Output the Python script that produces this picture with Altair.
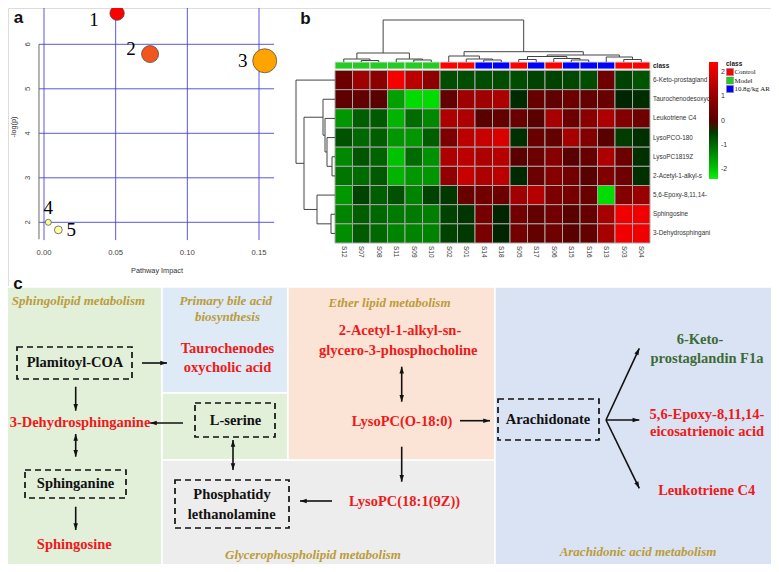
import math
import altair as alt
import pandas as pd

# ---------------- Panel a: pathway impact ----------------
path_ids = ["1", "2", "3", "4", "5"]
path_impact = [0.051, 0.074, 0.154, 0.003, 0.010]
path_logp = [6.70, 5.78, 5.63, 2.00, 1.83]
path_colors = ["#ff0000", "#f0561e", "#ffa300", "#ffff8f", "#ffffa3"]
x_ticks = [0.00, 0.05, 0.10, 0.15]
y_ticks = [2, 3, 4, 5, 6]

# ---------------- Panel b: heatmap ----------------
samples = ["S12", "S07", "S08", "S11", "S09", "S10", "S02", "S01", "S14",
           "S18", "S05", "S17", "S06", "S15", "S16", "S13", "S03", "S04"]
sample_class = ["Model", "Model", "Model", "Model", "Model", "Model",
                "Control", "Control", "10.8g/kg AR", "10.8g/kg AR", "Control",
                "10.8g/kg AR", "Control", "10.8g/kg AR", "10.8g/kg AR",
                "10.8g/kg AR", "Control", "Control"]
metabolites = ["6-Keto-prostagland", "Taurochenodesoxych", "Leukotriene C4",
               "LysoPCO-180", "LysoPC1819Z", "2-Acetyl-1-alkyl-s",
               "5,6-Epoxy-8,11,14-", "Sphingosine", "3-Dehydrosphingani"]
heat_values = [
    [0.35, 1.10, 0.80, 2.30, 1.50, 0.85, -0.70, -0.70, -0.70, -0.70, -0.70, -0.60, -0.60, -0.65, -0.70, 0.40, -0.60, -0.80],
    [0.10, 0.20, 0.00, -1.60, -2.20, -2.20, 0.20, 1.10, 1.10, 1.30, -0.20, 0.25, 0.15, 0.35, 0.20, 0.30, -0.05, -0.25],
    [-1.50, -0.90, -0.85, -1.80, -1.05, -1.35, 1.30, 1.30, 0.00, 0.20, 0.30, 0.00, 1.20, 0.35, 0.80, 1.30, 0.70, 0.40],
    [-0.75, -1.00, -0.90, -1.50, -1.50, -0.90, 0.60, 1.50, 1.65, 1.90, -0.30, 0.30, 0.20, 1.20, 0.70, 0.00, -0.50, -0.30],
    [-1.35, -0.80, -0.95, -1.95, -1.05, -1.45, 1.30, 1.50, 1.30, 1.45, 0.05, 0.35, 0.75, 0.05, 0.25, 1.30, 0.35, -0.30],
    [-1.15, -1.05, -0.85, -1.80, -1.50, -1.50, 0.90, 1.65, 1.30, 1.50, -0.15, 0.35, 0.75, 0.45, 0.00, 0.65, 0.40, -0.30],
    [-1.50, -0.60, -0.90, -0.75, -1.30, -0.60, -0.45, 0.30, 0.45, 0.35, 1.10, 1.40, 0.60, 0.50, 0.30, -2.20, 0.70, 1.00],
    [-1.30, -0.90, -1.00, -1.20, -1.20, -1.25, -0.60, -0.40, 0.50, -0.05, 0.45, 0.20, 0.45, 0.05, 0.25, 1.20, 2.20, 2.20],
    [-1.40, -0.85, -1.00, -1.30, -1.30, -1.30, -0.60, -0.45, 0.55, -0.05, 0.45, 0.20, 0.40, 0.05, 0.20, 1.20, 2.20, 2.20],
]
class_names = ["Control", "Model", "10.8g/kg AR"]
class_colors = ["#ff0000", "#22cc22", "#0000ff"]
colorbar_ticks = [-2, -1, 0, 1, 2]

# dendrogram merges: (left, right, merge height)
col_merges = [
    (1, 2, 1.5), (0, "n0", 3), (4, 5, 2), (3, "n2", 3), ("n1", "n3", 9),
    (8, 9, 2), (7, "n5", 3), (6, "n6", 6),
    (10, 11, 2.5), (13, 14, 2), (12, "n9", 3.5), ("n8", "n10", 5.5),
    (16, 17, 2.5), (15, "n12", 5), ("n11", "n13", 7),
    ("n7", "n14", 10.3), ("n4", "n15", 42),
]
row_merges = [
    (4, 5, 3), (3, "n0", 8), (2, "n1", 10), (1, "n2", 12),
    (7, 8, 4), (6, "n4", 18), ("n3", "n5", 31), (0, "n6", 39),
]

# ---------------- Panel c: pathway diagram (layout in page pixels) ----------------
region_names = ["sphingo", "bile", "serine", "glycero", "ether", "arach"]
region_fills = ["#e2efd9", "#deeaf6", "#e2efd9", "#ededed", "#fbe4d5", "#dae3f3"]
regions = pd.DataFrame({
    "name": region_names,
    "x1": [0, 162, 162, 162, 288, 495],
    "y1": [287, 287, 393, 460, 287, 287],
    "x2": [162, 288, 288, 495, 495, 779],
    "y2": [568, 393, 460, 568, 460, 568],
})
boxes = pd.DataFrame({
    "x1": [17, 195, 25, 175, 498],
    "y1": [347, 403, 470, 480, 399],
    "x2": [132, 275, 126, 289, 599],
    "y2": [379, 437, 498, 528, 440],
})
arrows = [
    (142, 363, 167, 363, False),
    (75.7, 386.7, 75.7, 410.7, False),
    (183, 423, 150, 423, False),
    (75.7, 434, 75.7, 456.7, True),
    (75.7, 506.7, 75.7, 530, False),
    (233, 440, 233, 470, True),
    (332, 501, 300, 501, False),
    (401.7, 366.7, 401.7, 401.7, True),
    (460, 420.7, 490, 420.7, False),
    (401.7, 446.7, 401.7, 481.7, False),
    (606, 420, 639.3, 348.3, False),
    (606, 420, 639.3, 420, False),
    (606, 420, 639.3, 488.3, False),
]
black_nodes = [("Plamitoyl-COA", 75, 363.3), ("L-serine", 235.5, 421),
               ("Sphinganine", 75.5, 484.3), ("Phosphatidy", 232, 495),
               ("lethanolamine", 231.7, 515), ("Arachidonate", 548, 420)]
red_nodes = [("Taurochenodes", 227.5, 349), ("oxycholic acid", 227.5, 368.3),
             ("3-Dehydrosphinganine", 80, 422.7), ("Sphingosine", 74.3, 545),
             ("2-Acetyl-1-alkyl-sn-", 400, 330.5),
             ("glycero-3-phosphocholine", 398.3, 351),
             ("LysoPC(O-18:0)", 402, 421.7), ("LysoPC(18:1(9Z))", 404.5, 501.7),
             ("5,6-Epoxy-8,11,14-", 707, 415), ("eicosatrienoic acid", 707, 431.7),
             ("Leukotriene C4", 706.7, 490.7)]
green_nodes = [("6-Keto-", 700, 340), ("prostaglandin F1a", 707, 359)]
pathway_titles = [("Sphingolipid metabolism", 78.5, 301),
                  ("Primary bile acid", 225.8, 301), ("biosynthesis", 227.5, 317.3),
                  ("Ether lipid metabolism", 389.5, 302.7),
                  ("Glycerophospholipid metabolism", 313, 555),
                  ("Arachidonic acid metabolism", 638, 551.7)]
panel_letters = [("a", 18.5, 23), ("b", 305.5, 23.5), ("c", 18, 289)]

# ------------------------------------------------------------------
SANS = "Liberation Sans"
SERIF = "Liberation Serif"
W, H = 763, 556


def lin(domain, rng):
    return alt.Scale(domain=domain, range=rng, nice=False, zero=False)


PX = lin([0, 779], [-8, 771])   # page pixel -> plot pixel
PY = lin([0, 572], [-8, 564])


def txt_df(items):
    return pd.DataFrame(items, columns=["t", "x", "y"])


layers = []

# ===== Panel c backgrounds =====
layers.append(
    alt.Chart(regions).mark_rect(stroke="white", strokeWidth=1.5).encode(
        x=alt.X("x1:Q", scale=PX, axis=None), x2="x2:Q",
        y=alt.Y("y1:Q", scale=PY, axis=None), y2="y2:Q",
        color=alt.Color("name:N", scale=alt.Scale(domain=region_names, range=region_fills), legend=None),
    )
)

# ===== Panel a =====
AX = lin([0, 0.15], [36, 251])
AY = lin([2, 6], [214.3, 36.3])
grid_blue = "#3c3cd6"
layers.append(
    alt.Chart(pd.DataFrame({"x": x_ticks, "y1": 1.60, "y2": 6.88})).mark_rule(
        color=grid_blue, strokeWidth=1, opacity=0.85).encode(
        x=alt.X("x:Q", scale=AX, axis=None),
        y=alt.Y("y1:Q", scale=AY, axis=None), y2="y2:Q")
)
layers.append(
    alt.Chart(pd.DataFrame({"y": y_ticks, "x1": -0.0035, "x2": 0.1605})).mark_rule(
        color=grid_blue, strokeWidth=1, opacity=0.85).encode(
        y=alt.Y("y:Q", scale=AY, axis=None),
        x=alt.X("x1:Q", scale=AX, axis=None), x2="x2:Q")
)
layers.append(
    alt.Chart(pd.DataFrame({"x": [-0.0035], "y1": [1.62], "y2": [6.0]})).mark_rule(
        color="#666", strokeWidth=1).encode(
        x=alt.X("x:Q", scale=AX, axis=None),
        y=alt.Y("y1:Q", scale=AY, axis=None), y2="y2:Q")
)
layers.append(
    alt.Chart(pd.DataFrame({"x": x_ticks})).mark_text(
        font=SANS, fontSize=7.7, color="#444", baseline="middle").encode(
        x=alt.X("x:Q", scale=AX, axis=None), y=alt.value(245),
        text=alt.Text("x:Q", format=".2f"))
)
layers.append(
    alt.Chart(pd.DataFrame({"y": y_ticks})).mark_text(
        font=SANS, fontSize=7.7, color="#444", baseline="middle", angle=270).encode(
        y=alt.Y("y:Q", scale=AY, axis=None), x=alt.value(20),
        text=alt.Text("y:Q", format="d"))
)
layers.append(
    alt.Chart(txt_df([("Pathway Impact", 157, 271)])).mark_text(
        font=SANS, fontSize=7.3, color="#333", baseline="middle").encode(
        x=alt.X("x:Q", scale=PX, axis=None), y=alt.Y("y:Q", scale=PY, axis=None), text="t:N")
)
layers.append(
    alt.Chart(txt_df([("-log(p)", 14, 127)])).mark_text(
        font=SANS, fontSize=7.3, color="#333", baseline="middle", angle=270).encode(
        x=alt.X("x:Q", scale=PX, axis=None), y=alt.Y("y:Q", scale=PY, axis=None), text="t:N")
)
bubbles = pd.DataFrame({"id": path_ids, "impact": path_impact, "logp": path_logp})
layers.append(
    alt.Chart(bubbles).mark_circle(stroke="#444", strokeWidth=0.7, opacity=1).encode(
        x=alt.X("impact:Q", scale=AX, axis=None),
        y=alt.Y("logp:Q", scale=AY, axis=None),
        size=alt.Size("impact:Q", scale=alt.Scale(domain=[0.003, 0.154], range=[36, 576], zero=False, nice=False), legend=None),
        color=alt.Color("id:N", scale=alt.Scale(domain=path_ids, range=path_colors), legend=None),
    )
)
label_offsets = {"1": (-23, 6.5), "2": (-19, -5), "3": (-22, 0), "4": (0, -14), "5": (13, 0)}
for pid in path_ids:
    dx, dy = label_offsets[pid]
    layers.append(
        alt.Chart(bubbles[bubbles["id"] == pid]).mark_text(
            font=SERIF, fontSize=19, color="black", baseline="middle", dx=dx, dy=dy).encode(
            x=alt.X("impact:Q", scale=AX, axis=None),
            y=alt.Y("logp:Q", scale=AY, axis=None), text="id:N")
    )

# ===== Panel b =====
HX_RANGE = [327, 642]
HY_RANGE = [62.5, 235]
band_x = alt.Scale(type="band", domain=samples, range=HX_RANGE, paddingInner=0, paddingOuter=0)
band_y = alt.Scale(type="band", domain=metabolites, range=HY_RANGE, paddingInner=0, paddingOuter=0)
point_x = alt.Scale(type="point", domain=samples, range=HX_RANGE, padding=0.5)
point_y = alt.Scale(type="point", domain=metabolites, range=HY_RANGE, padding=0.5)

heat = pd.DataFrame([
    {"metab": m, "sample": s, "v": heat_values[i][j]}
    for i, m in enumerate(metabolites) for j, s in enumerate(samples)
])
layers.append(
    alt.Chart(heat).mark_rect(stroke="#a8a8a8", strokeWidth=1).encode(
        x=alt.X("sample:N", scale=band_x, axis=None),
        y=alt.Y("metab:N", scale=band_y, axis=None),
        color=alt.Color("v:Q", scale=alt.Scale(domain=[-2.4, 0, 2.4], range=["#10f010", "#000000", "#ff0000"], nice=False, zero=False),
                        legend=alt.Legend(orient="none", legendX=701, legendY=54, direction="vertical",
                                          gradientLength=117, gradientThickness=9, title=None,
                                          values=colorbar_ticks, labelFontSize=7, labelFont=SANS,
                                          labelColor="#333", labelOffset=3, gradientStrokeWidth=0,
                                          labelOverlap=False,
                                          labelExpr="datum.value < 0 ? '-' + abs(datum.value) : '' + datum.value")),
    )
)
cls = pd.DataFrame({"sample": samples, "cls": sample_class})
layers.append(
    alt.Chart(cls).mark_rect(stroke="#dddddd", strokeWidth=1).encode(
        x=alt.X("sample:N", scale=band_x, axis=None),
        y=alt.value(54), y2=alt.value(61),
        color=alt.Color("cls:N", scale=alt.Scale(domain=class_names, range=class_colors), legend=None),
    )
)
layers.append(
    alt.Chart(pd.DataFrame({"m": metabolites})).mark_text(
        font=SANS, fontSize=6.4, color="#333", align="left", baseline="middle").encode(
        y=alt.Y("m:N", scale=point_y, axis=None), x=alt.value(645), text="m:N")
)
layers.append(
    alt.Chart(pd.DataFrame({"s": samples})).mark_text(
        font=SANS, fontSize=6.5, color="#333", align="left", baseline="middle", angle=90).encode(
        x=alt.X("s:N", scale=point_x, axis=None), y=alt.value(238), text="s:N")
)
layers.append(
    alt.Chart(txt_df([("class", 653, 66)])).mark_text(
        font=SANS, fontSize=6.5, fontWeight="bold", color="#222", align="left", baseline="middle").encode(
        x=alt.X("x:Q", scale=PX, axis=None), y=alt.Y("y:Q", scale=PY, axis=None), text="t:N")
)


def dendro(merges, n_leaves):
    pos = {i: float(i) for i in range(n_leaves)}
    hgt = {i: 0.0 for i in range(n_leaves)}
    segs = []
    for k, (a, b, h) in enumerate(merges):
        pa, pb = pos[a], pos[b]
        segs.append((pa, h, pb, h))
        segs.append((pa, hgt[a], pa, h))
        segs.append((pb, hgt[b], pb, h))
        pos[f"n{k}"] = (pa + pb) / 2
        hgt[f"n{k}"] = h
    return pd.DataFrame(segs, columns=["p1", "h1", "p2", "h2"])


dcol = dendro(col_merges, len(samples))
drow = dendro(row_merges, len(metabolites))
DCX = lin([-0.5, len(samples) - 0.5], HX_RANGE)
DCY = lin([0, 42], [54, 12])
DRY = lin([-0.5, len(metabolites) - 0.5], HY_RANGE)
DRX = lin([0, 39], [327, 288])
layers.append(
    alt.Chart(dcol).mark_rule(color="#444", strokeWidth=1).encode(
        x=alt.X("p1:Q", scale=DCX, axis=None), x2="p2:Q",
        y=alt.Y("h1:Q", scale=DCY, axis=None), y2="h2:Q")
)
layers.append(
    alt.Chart(drow).mark_rule(color="#444", strokeWidth=1).encode(
        y=alt.Y("p1:Q", scale=DRY, axis=None), y2="p2:Q",
        x=alt.X("h1:Q", scale=DRX, axis=None), x2="h2:Q")
)

# class legend
LEG_Y = alt.Scale(type="point", domain=class_names, range=[64, 81], padding=0)
leg = pd.DataFrame({"cls": class_names})
layers.append(
    alt.Chart(leg).mark_square(size=49, stroke="#888", strokeWidth=0.6, opacity=1).encode(
        y=alt.Y("cls:N", scale=LEG_Y, axis=None), x=alt.value(722),
        color=alt.Color("cls:N", scale=alt.Scale(domain=class_names, range=class_colors), legend=None))
)
layers.append(
    alt.Chart(leg).mark_text(font=SERIF, fontSize=6.9, color="#111", align="left", baseline="middle").encode(
        y=alt.Y("cls:N", scale=LEG_Y, axis=None), x=alt.value(726.5), text="cls:N")
)
layers.append(
    alt.Chart(txt_df([("class", 726, 64)])).mark_text(
        font=SANS, fontSize=6.5, fontWeight="bold", color="#222", align="left", baseline="middle").encode(
        x=alt.X("x:Q", scale=PX, axis=None), y=alt.Y("y:Q", scale=PY, axis=None), text="t:N")
)

# ===== Panel c foreground =====
layers.append(
    alt.Chart(boxes).mark_rect(filled=False, stroke="#111", strokeWidth=1.7, strokeDash=[6, 4]).encode(
        x=alt.X("x1:Q", scale=PX, axis=None), x2="x2:Q",
        y=alt.Y("y1:Q", scale=PY, axis=None), y2="y2:Q")
)
arr = pd.DataFrame(arrows, columns=["x1", "y1", "x2", "y2", "double"])
layers.append(
    alt.Chart(arr).mark_rule(color="#111", strokeWidth=1.6).encode(
        x=alt.X("x1:Q", scale=PX, axis=None), x2="x2:Q",
        y=alt.Y("y1:Q", scale=PY, axis=None), y2="y2:Q")
)
heads = []
for x1, y1, x2, y2, dbl in arrows:
    ang = math.degrees(math.atan2(x2 - x1, -(y2 - y1))) % 360
    heads.append((x2, y2, ang))
    if dbl:
        heads.append((x1, y1, (ang + 180) % 360))
heads = pd.DataFrame(heads, columns=["x", "y", "angle"])
ARROW = "M0,0L-0.45,1.35L0.45,1.35Z"
layers.append(
    alt.Chart(heads).mark_point(shape=ARROW, filled=True, size=100, color="#111", opacity=1).encode(
        x=alt.X("x:Q", scale=PX, axis=None), y=alt.Y("y:Q", scale=PY, axis=None),
        angle=alt.Angle("angle:Q", scale=None))
)


def text_layer(items, **style):
    return alt.Chart(txt_df(items)).mark_text(baseline="middle", **style).encode(
        x=alt.X("x:Q", scale=PX, axis=None), y=alt.Y("y:Q", scale=PY, axis=None), text="t:N")


layers.append(text_layer(black_nodes, font=SERIF, fontSize=14.5, fontWeight="bold", color="#111"))
layers.append(text_layer(red_nodes, font=SERIF, fontSize=14.5, fontWeight="bold", color="#ee1a1a"))
layers.append(text_layer(green_nodes, font=SERIF, fontSize=14.5, fontWeight="bold", color="#3d6b37"))
layers.append(text_layer(pathway_titles, font=SERIF, fontSize=13, fontWeight="bold", fontStyle="italic", color="#bb9c3c"))

# panel letters
layers.append(
    alt.Chart(txt_df(panel_letters)).mark_text(
        font=SANS, fontSize=17, fontWeight="bold", color="#111", baseline="alphabetic").encode(
        x=alt.X("x:Q", scale=PX, axis=None), y=alt.Y("y:Q", scale=PY, axis=None), text="t:N")
)

chart = alt.layer(*layers).resolve_scale(
    x="independent", y="independent", color="independent", size="independent"
).properties(
    width=W, height=H, padding=0, autosize=alt.AutoSizeParams(type="none")
).configure_view(stroke=None).configure(background="white")

chart.save("out.html", embed_options={"renderer": "svg", "actions": False})
